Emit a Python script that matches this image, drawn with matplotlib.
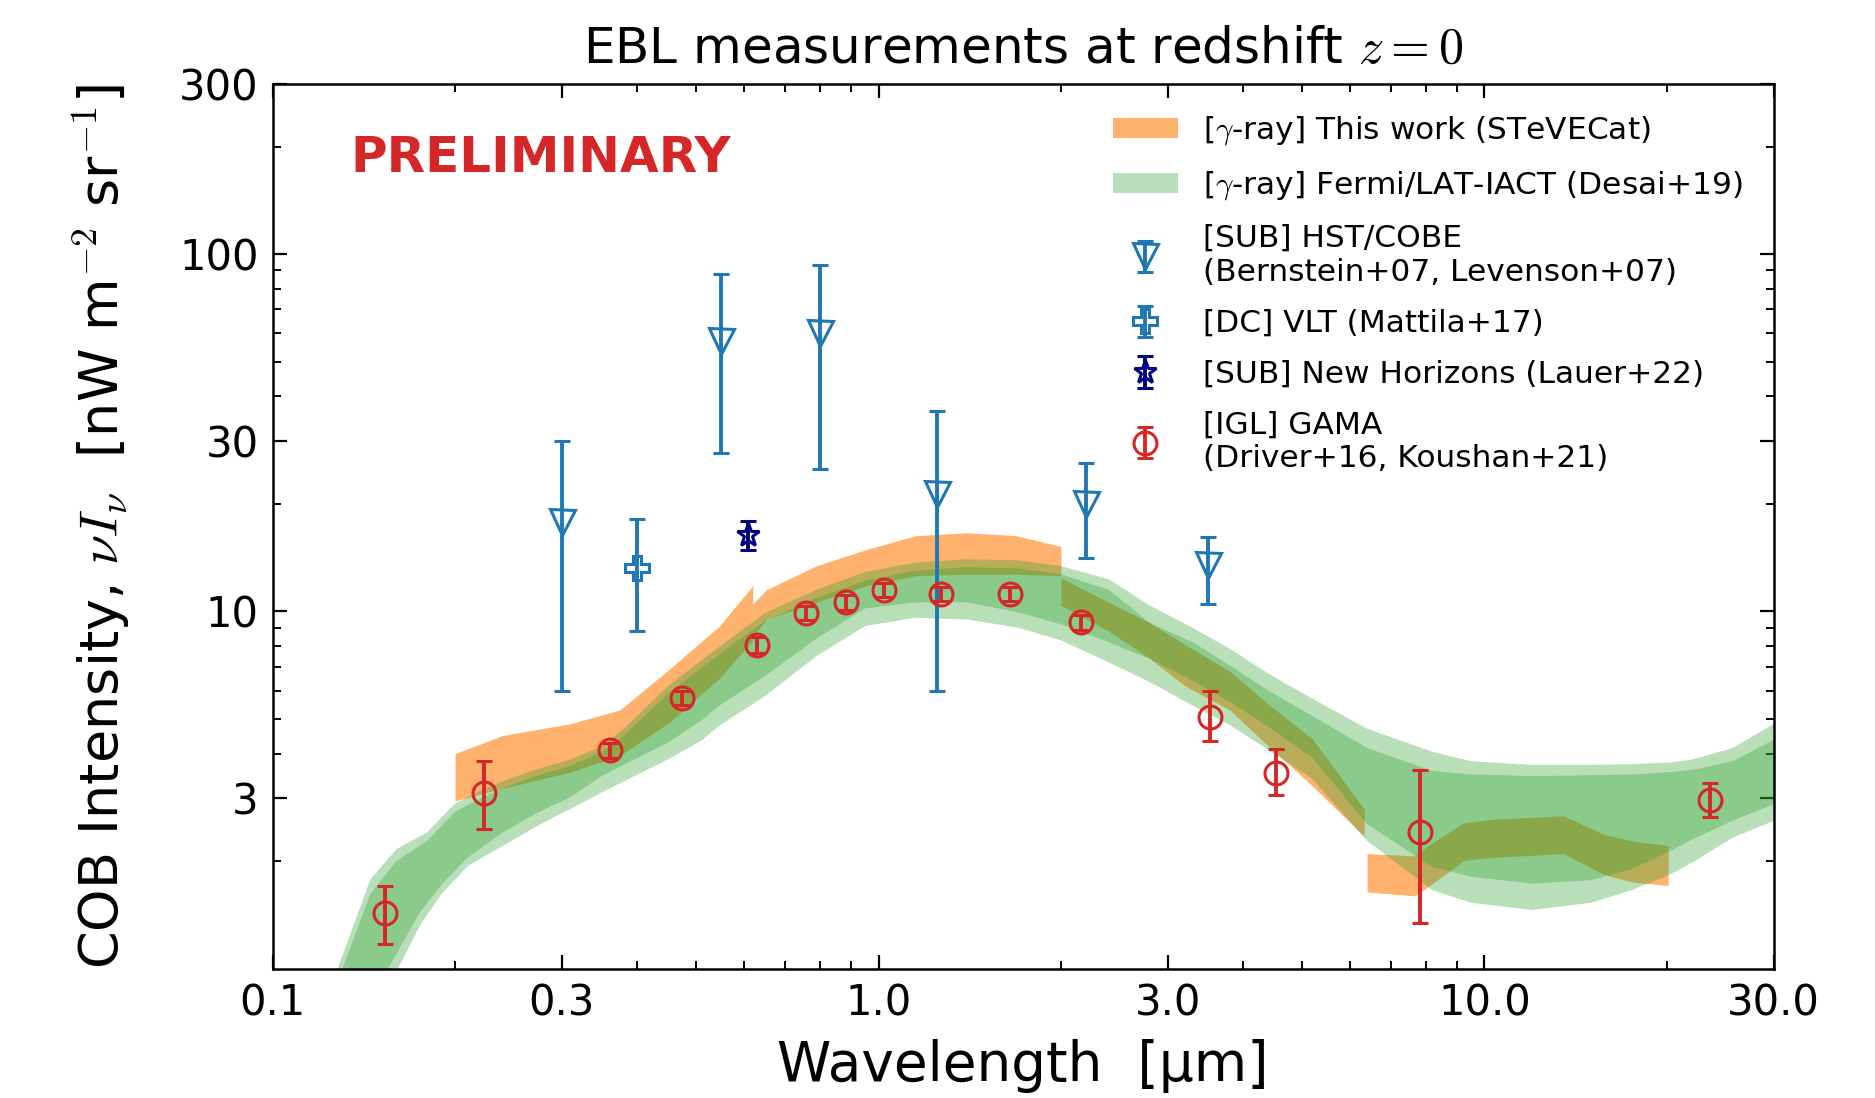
import numpy as np
import matplotlib
matplotlib.use("Agg")
import matplotlib.pyplot as plt
from matplotlib.ticker import NullFormatter

plt.rcParams['font.family'] = ['DejaVu Sans']
plt.rcParams['mathtext.fontset'] = 'cm'

# ---- gamma-ray band, this work (STeVECat): separate segments ----
seg_a_wl = [0.2, 0.24, 0.31, 0.374, 0.452, 0.546, 0.62]
seg_a_lo = [2.95, 3.2, 3.55, 3.95, 4.9, 6.5, 8.3]
seg_a_hi = [4.0, 4.5, 4.85, 5.3, 6.9, 9.1, 11.8]

seg_b_wl = [0.62, 0.653, 0.788, 0.954, 1.153, 1.395, 1.687, 2.0]
seg_b_lo = [8.5, 9.5, 10.6, 11.8, 12.6, 12.7, 12.7, 12.6]
seg_b_hi = [10.5, 11.5, 13.4, 14.9, 16.3, 16.6, 16.3, 15.2]

seg_c_wl = [2.0, 2.4, 2.8, 3.2, 3.8, 4.4, 5.2, 6.33]
seg_c_lo = [10.4, 8.8, 7.4, 6.2, 5.3, 4.2, 3.25, 2.35]
seg_c_hi = [12.4, 10.6, 9.3, 8.1, 6.8, 5.5, 4.4, 2.8]

seg_d_wl = [6.4, 7.68, 8.16, 9.24, 10.3, 13.5, 15.7, 17.5, 20.1]
seg_d_lo = [1.64, 1.60, 1.72, 2.01, 2.05, 2.10, 1.84, 1.75, 1.71]
seg_d_hi = [2.10, 2.07, 2.24, 2.56, 2.62, 2.68, 2.38, 2.28, 2.21]

# ---- Fermi/LAT-IACT band (Desai+19), outer and inner ----
top_wl = [0.12, 0.128, 0.145, 0.16, 0.18, 0.20, 0.225, 0.24, 0.27, 0.31,
          0.35, 0.38, 0.45, 0.51, 0.58, 0.65, 0.79, 0.95, 1.15, 1.4,
          1.7, 2.0, 2.4, 2.8, 3.3, 3.8, 4.4, 5.2, 6.4, 8.2,
          9.5, 12, 15, 17.5, 20.3, 22, 25.7, 31]
outer_hi = [0.75, 1.0, 1.78, 2.16, 2.41, 2.9, 3.2, 3.35, 3.6, 3.85,
            4.2, 4.7, 6.2, 7.3, 8.6, 9.9, 11.5, 12.9, 13.7, 14.0,
            13.9, 13.4, 12.3, 10.4, 9.0, 7.86, 6.7, 5.7, 4.7, 4.05,
            3.81, 3.72, 3.72, 3.74, 3.78, 3.85, 4.15, 5.0]
inner_hi = [0.7, 0.92, 1.62, 2.0, 2.28, 2.75, 3.05, 3.2, 3.45, 3.7,
            4.05, 4.5, 5.9, 6.95, 8.2, 9.4, 10.9, 12.2, 13.0, 13.3,
            13.2, 12.7, 11.5, 9.3, 8.2, 7.06, 6.0, 5.1, 4.15, 3.58,
            3.5, 3.46, 3.48, 3.5, 3.55, 3.6, 3.81, 4.5]

bot_wl = [0.145, 0.15, 0.155, 0.161, 0.175, 0.19, 0.21, 0.24, 0.27, 0.294,
          0.31, 0.35, 0.45, 0.51, 0.546, 0.65, 0.79, 0.95, 1.15, 1.4,
          1.7, 2.0, 2.4, 2.8, 3.3, 3.8, 4.4, 5.2, 6.4, 8.2,
          9.5, 12, 15, 17.5, 20.3, 22, 25.7, 31]
outer_lo = [0.6, 0.72, 0.85, 1.0, 1.32, 1.62, 1.94, 2.21, 2.48, 2.68,
            2.8, 3.12, 3.86, 4.35, 4.79, 5.8, 7.5, 9.1, 9.6, 9.5,
            9.0, 8.3, 7.2, 6.35, 5.45, 4.81, 4.1, 3.4, 2.28, 1.66,
            1.53, 1.46, 1.53, 1.66, 1.84, 1.98, 2.33, 2.65]
inner_lo = [0.8, 0.9, 1.0, 1.12, 1.44, 1.72, 2.05, 2.41, 2.7, 2.9,
            3.02, 3.47, 4.3, 4.95, 5.45, 6.6, 8.4, 10.2, 10.6, 10.6,
            9.95, 9.2, 8.2, 7.37, 6.4, 5.59, 4.75, 3.9, 2.54, 1.93,
            1.81, 1.73, 1.77, 1.9, 2.14, 2.3, 2.6, 2.95]

# ---- HST/COBE (Bernstein+07, Levenson+07) ----
hst_wl = [0.3, 0.55, 0.8, 1.25, 2.2, 3.5]
hst_val = [17.8, 57.0, 60.0, 21.3, 20.0, 13.5]
hst_up = [30.0, 88.0, 93.0, 36.5, 26.0, 16.2]
hst_dn = [6.0, 27.8, 25.0, 6.0, 14.1, 10.5]

# ---- VLT (Mattila+17) ----
vlt_wl = [0.4]
vlt_val = [13.2]
vlt_up = [18.2]
vlt_dn = [8.8]

# ---- New Horizons (Lauer+22) ----
nh_wl = [0.608]
nh_val = [16.4]
nh_err = [1.5]

# ---- GAMA IGL (Driver+16, Koushan+21) ----
gama_wl = [0.153, 0.223, 0.36, 0.473, 0.629, 0.758, 0.885, 1.02, 1.27, 1.65,
           2.16, 3.52, 4.52, 7.83, 23.6]
gama_val = [1.43, 3.1, 4.09, 5.74, 8.06, 9.92, 10.6, 11.5, 11.2, 11.2,
            9.33, 5.08, 3.54, 2.41, 2.96]
gama_up = [0.27, 0.72, 0.2, 0.25, 0.4, 0.45, 0.5, 0.5, 0.5, 0.5,
           0.45, 0.92, 0.59, 1.18, 0.34]
gama_dn = [0.26, 0.64, 0.2, 0.25, 0.4, 0.45, 0.5, 0.5, 0.5, 0.5,
           0.45, 0.73, 0.48, 1.07, 0.30]

orange = '#ff7f0e'
green = '#2ca02c'
blue = '#1f77b4'
red = '#d62728'

fig = plt.figure(figsize=(18.75, 10.98), dpi=100)
ax = fig.add_axes([0.1454, 0.1177, 0.8005, 0.8061])
ax.set_xscale('log')
ax.set_yscale('log')

# orange band first, green drawn over it
orange_segments = [(seg_a_wl, seg_a_lo, seg_a_hi), (seg_b_wl, seg_b_lo, seg_b_hi),
                   (seg_c_wl, seg_c_lo, seg_c_hi), (seg_d_wl, seg_d_lo, seg_d_hi)]
for i, (wl, lo, hi) in enumerate(orange_segments):
    p = ax.fill_between(wl, lo, hi, color=orange, alpha=0.6, lw=0, zorder=1)
    if i == 0:
        h_orange = p

h_green = ax.fill(np.concatenate([top_wl, bot_wl[::-1]]),
                  np.concatenate([outer_hi, outer_lo[::-1]]),
                  color=green, alpha=0.33, lw=0, zorder=2)[0]
ax.fill(np.concatenate([top_wl, bot_wl[::-1]]),
        np.concatenate([inner_hi, inner_lo[::-1]]),
        color=green, alpha=0.33, lw=0, zorder=2)

eb_kw = dict(ls='none', elinewidth=2.8, capsize=6, capthick=2.8, mew=2.2, zorder=5)

hst_err = [np.array(hst_val) - np.array(hst_dn), np.array(hst_up) - np.array(hst_val)]
h_hst = ax.errorbar(hst_wl, hst_val, yerr=hst_err, marker='v', ms=18, mfc='none',
                    color=blue, **eb_kw)

vlt_err = [np.array(vlt_val) - np.array(vlt_dn), np.array(vlt_up) - np.array(vlt_val)]
h_vlt = ax.errorbar(vlt_wl, vlt_val, yerr=vlt_err, marker='P', ms=17, mfc='none',
                    color=blue, **eb_kw)

h_nh = ax.errorbar(nh_wl, nh_val, yerr=nh_err, marker='*', ms=17, mfc='none',
                   color='navy', **eb_kw)

h_gama = ax.errorbar(gama_wl, gama_val, yerr=[gama_dn, gama_up], marker='o', ms=16.5,
                     mfc='none', color=red, **eb_kw)

ax.set_xlim(0.1, 30)
ax.set_ylim(1, 300)
ax.set_xticks([0.1, 0.3, 1, 3, 10, 30])
ax.set_xticklabels(['0.1', '0.3', '1.0', '3.0', '10.0', '30.0'])
ax.set_yticks([3, 10, 30, 100, 300])
ax.set_yticklabels(['3', '10', '30', '100', '300'])
ax.xaxis.set_minor_formatter(NullFormatter())
ax.yaxis.set_minor_formatter(NullFormatter())
ax.tick_params(which='both', direction='in', top=True, right=True, labelsize=30)
ax.tick_params(which='major', length=10, width=1.6, pad=10)
ax.tick_params(which='minor', length=6, width=1.4)
for s in ax.spines.values():
    s.set_linewidth(1.8)

ax.set_title('EBL measurements at redshift $z=0$', fontsize=36, pad=15)
ax.set_xlabel('Wavelength  [µm]', fontsize=39.5, labelpad=10)
ax.set_ylabel(r'COB Intensity, $\nu I_\nu$  [nW m$^{-2}$ sr$^{-1}$]', fontsize=39, labelpad=34)

ax.text(0.052, 0.916, 'PRELIMINARY', transform=ax.transAxes, color=red,
        fontsize=36, fontweight='bold', va='center', ha='left')

handles = [h_orange, h_green, h_hst, h_vlt, h_nh, h_gama]
labels = [r'[$\gamma$-ray] This work (STeVECat)',
          r'[$\gamma$-ray] Fermi/LAT-IACT (Desai+19)',
          '[SUB] HST/COBE\n(Bernstein+07, Levenson+07)',
          '[DC] VLT (Mattila+17)',
          '[SUB] New Horizons (Lauer+22)',
          '[IGL] GAMA\n(Driver+16, Koushan+21)']
ax.legend(handles, labels, loc='upper left', bbox_to_anchor=(0.545, 0.99),
          frameon=False, fontsize=22.5, handlelength=2.1, handleheight=0.6,
          labelspacing=0.7, handletextpad=0.8, borderpad=0.2)

fig.savefig('out.png', dpi=100)
